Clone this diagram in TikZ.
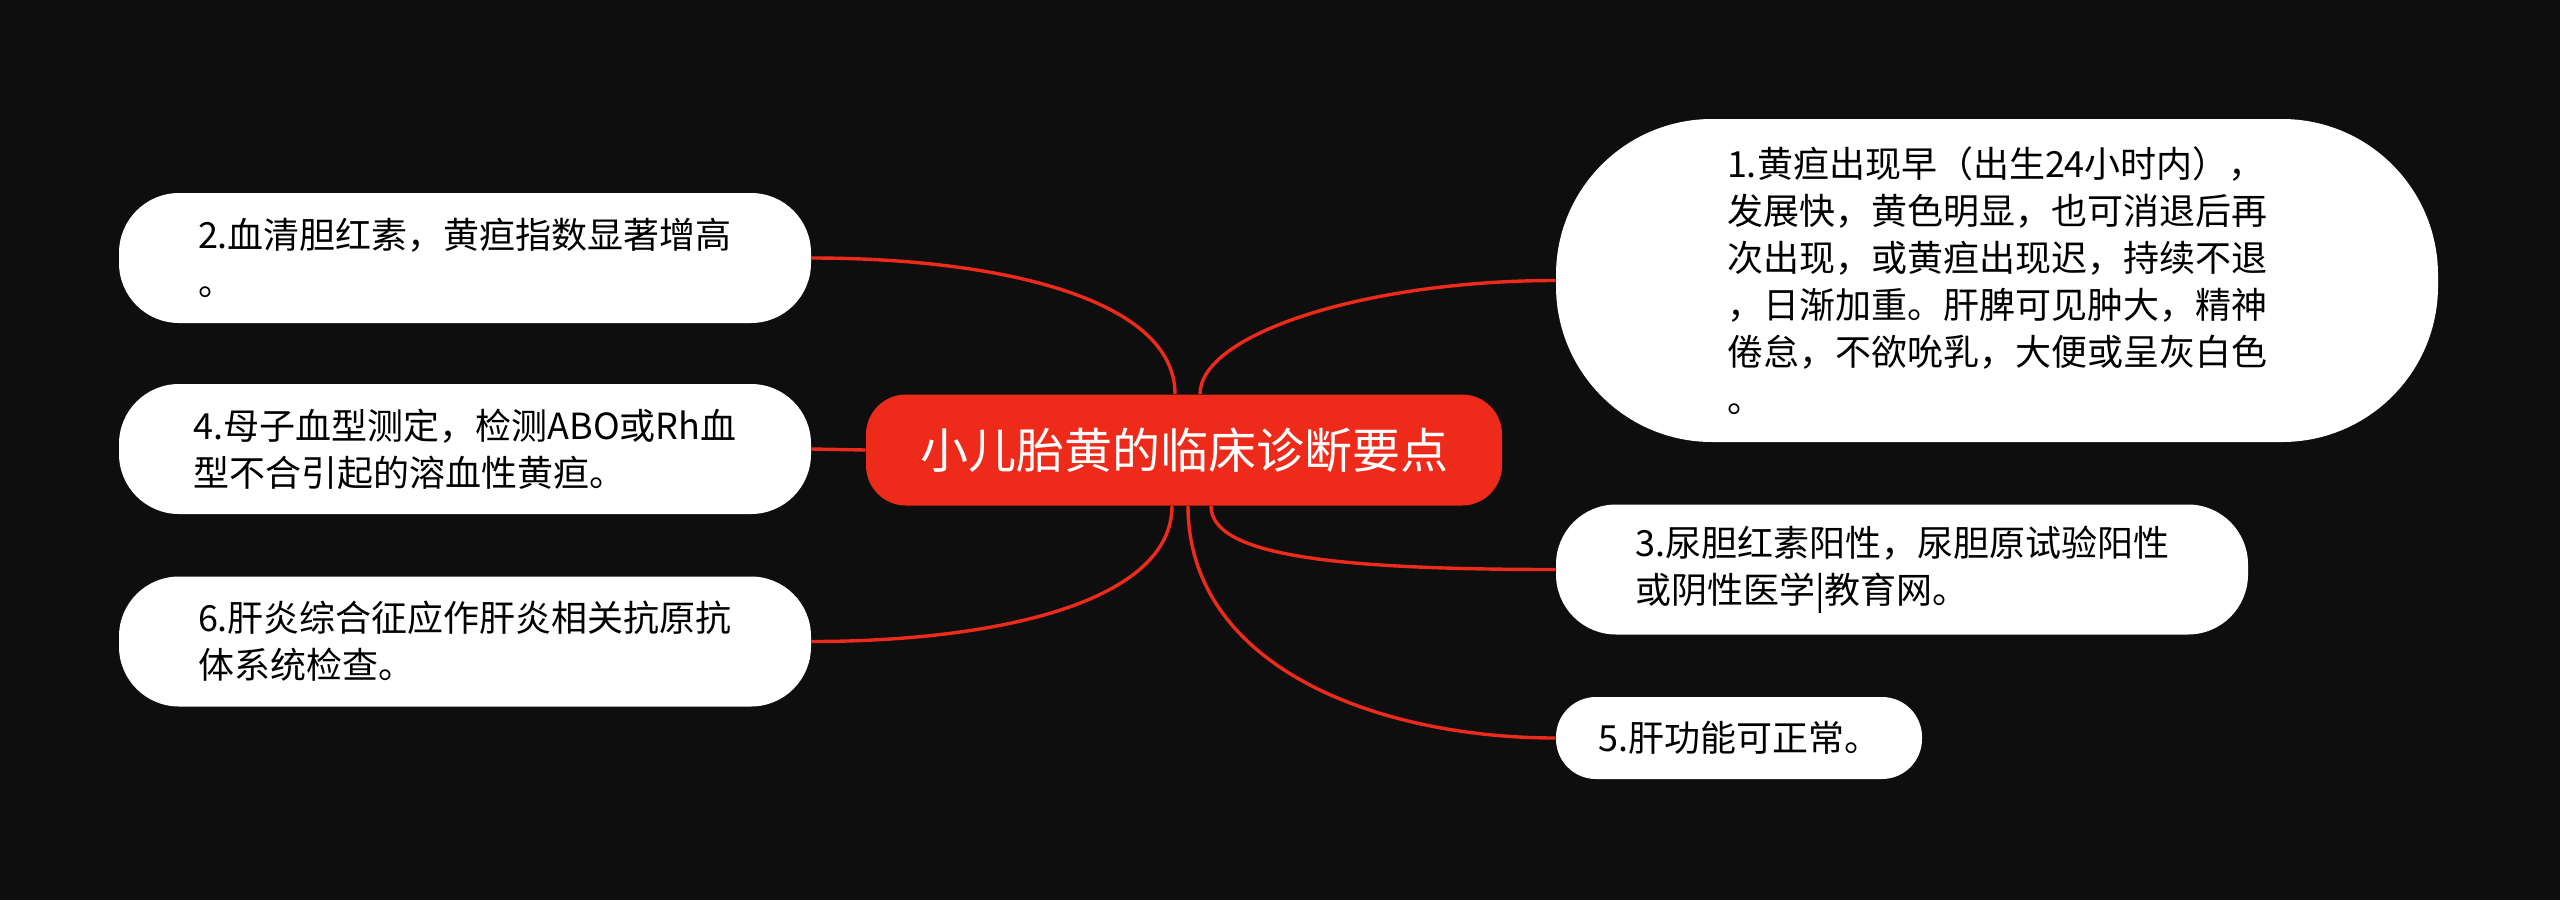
\documentclass[tikz,border=0pt]{standalone}
\usepackage{fontspec}
\setmainfont{Noto Sans CJK SC}
\usepackage{tikz}

\definecolor{bgdark}{HTML}{0E0E0E}
\definecolor{mapred}{HTML}{EE2B1A}

\begin{document}
\begin{tikzpicture}[x=1pt,y=-1pt,
  topic/.style={rectangle,rounded corners=20pt,fill=mapred,text=white,
    minimum width=318pt,minimum height=55.5pt,font=\fontsize{24}{30}\selectfont},
  leaf/.style={rectangle,rounded corners=30pt,fill=white,text=black,align=left,
    minimum width=346pt,minimum height=65pt,font=\fontsize{18}{23.5}\selectfont},
  link/.style={draw=mapred,line width=1.7pt}]
\fill[bgdark] (0,0) rectangle (1280,450);
\node[topic] (ctr) at (592,225) {小儿胎黄的临床诊断要点};
\node[leaf] (n2) at (232.5,129) {2.血清胆红素，黄疸指数显著增高\\。};
\node[leaf] (n4) at (232.5,224.5) {4.母子血型测定，检测ABO或Rh血\\型不合引起的溶血性黄疸。};
\node[leaf] (n6) at (232.5,320.75) {6.肝炎综合征应作肝炎相关抗原抗\\体系统检查。};
\node[leaf,rounded corners=78pt,minimum width=441pt,minimum height=161.5pt] (n1) at (998.5,140.25)
  {1.黄疸出现早（出生24小时内），\\发展快，黄色明显，也可消退后再\\次出现，或黄疸出现迟，持续不退\\，日渐加重。肝脾可见肿大，精神\\倦怠，不欲吮乳，大便或呈灰白色\\。};
\node[leaf] (n3) at (951,284.75) {3.尿胆红素阳性，尿胆原试验阳性\\或阴性医学|教育网。};
\node[leaf,rounded corners=20pt,minimum width=183pt,minimum height=41pt] (n5) at (869.5,369) {5.肝功能可正常。};
\draw[link] ([xshift=-4.5pt]ctr.north) .. controls +(0,-47.5) and +(94.5,0) .. (n2.east);
\draw[link] (ctr.west) -- (n4.east);
\draw[link] ([xshift=-6pt]ctr.south) .. controls +(0,47.5) and +(94.5,0) .. (n6.east);
\draw[link] ([xshift=8pt]ctr.north) .. controls +(0,-30) and +(-95,0) .. (n1.west);
\draw[link] ([xshift=13.5pt]ctr.south) .. controls +(0,25) and +(-110,0) .. (n3.west);
\draw[link] ([xshift=2pt]ctr.south) .. controls +(0,80) and +(-90,0) .. (n5.west);
\end{tikzpicture}
\end{document}
